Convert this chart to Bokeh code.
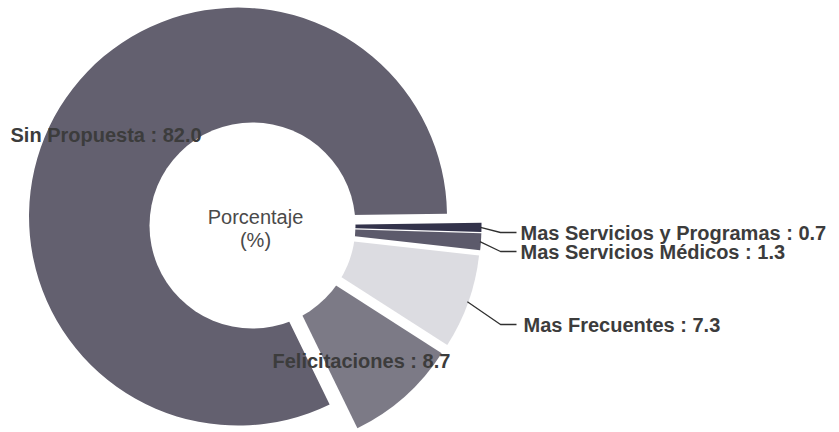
import math
from bokeh.plotting import figure
from bokeh.models import Range1d, ColumnDataSource
from bokeh.core.properties import value
from bokeh.embed import file_html
from bokeh.resources import INLINE

# ---- data ----
categories = ["Felicitaciones", "Mas Frecuentes", "Mas Servicios Médicos",
              "Mas Servicios y Programas", "Sin Propuesta"]
percentages = [8.7, 7.3, 1.3, 0.7, 82.0]
center_title = ["Porcentaje", "(%)"]

# ---- styles ----
colors = ["#7c7a86", "#dcdce1", "#5c5a6b", "#33334b", "#63606f"]
explode = [20, 20, 20, 20, 17]
START_DEG = -64.0
R_OUT = 209
R_HOLE = 103
CX, CY = 252, 225           # pie centre in picture pixels
W, H = 839, 432
FONT = value("Liberation Sans")
TEXT_SHIFT = -8

def dx(X):
    return X - CX

def dy(Y):
    return CY - Y

p = figure(width=W, height=H, output_backend="svg", toolbar_location=None,
           x_range=Range1d(dx(0), dx(W)), y_range=Range1d(dy(H), dy(0)),
           min_border=0)
p.axis.visible = False
p.grid.visible = False
p.outline_line_color = None
p.background_fill_color = "white"
p.border_fill_color = "white"

total = sum(percentages)
starts, ends, xs, ys, mids = [], [], [], [], []
a = math.radians(START_DEG)
for v, e in zip(percentages, explode):
    span = 2 * math.pi * v / total
    m = a + span / 2
    starts.append(a)
    ends.append(a + span)
    mids.append(m)
    xs.append(e * math.cos(m))
    ys.append(e * math.sin(m))
    a += span

src = ColumnDataSource(dict(x=xs, y=ys, start=starts, end=ends, color=colors,
                            cat=categories, val=percentages))
p.wedge(x="x", y="y", radius=R_OUT, start_angle="start", end_angle="end",
        direction="anticlock", fill_color="color", line_color=None, source=src)

# hole
p.scatter(x=[0], y=[0], size=2 * R_HOLE, marker="circle",
          fill_color="white", line_color=None)

labels = [f"{c} : {v:.1f}" for c, v in zip(categories, percentages)]

# label anchors (left x, baseline y) in picture pixels
label_pos = {
    "Sin Propuesta": (10, 142),
    "Felicitaciones": (272, 368),
    "Mas Servicios y Programas": (520, 240),
    "Mas Servicios Médicos": (520, 259),
    "Mas Frecuentes": (523, 332),
}
leader_y = {
    "Mas Servicios y Programas": 232,
    "Mas Servicios Médicos": 251,
    "Mas Frecuentes": 324,
}

lx, ly, lt = [], [], []
for c, t in zip(categories, labels):
    X, Y = label_pos[c]
    lx.append(dx(X))
    ly.append(dy(Y + TEXT_SHIFT))
    lt.append(t)
p.text(x=lx, y=ly, text=lt, text_font=FONT, text_font_style="bold",
       text_font_size="20px", text_color="#3c3c3c",
       text_align="left", text_baseline="alphabetic")

# leader lines
for i, c in enumerate(categories):
    if c not in leader_y:
        continue
    m = mids[i]
    rr = R_OUT + explode[i] - 1
    x0, y0 = rr * math.cos(m), rr * math.sin(m)
    yl = dy(leader_y[c])
    p.line(x=[x0, dx(500), dx(516)], y=[y0, yl, yl], line_color="#303030",
           line_width=1.3)

# centre title
p.text(x=[dx(255), dx(255)], y=[dy(224 + TEXT_SHIFT), dy(247 + TEXT_SHIFT)],
       text=center_title, text_font=FONT, text_font_size="20px",
       text_color="#4a4a4a", text_align="center", text_baseline="alphabetic")

open("out.html", "w").write(file_html(p, INLINE))
